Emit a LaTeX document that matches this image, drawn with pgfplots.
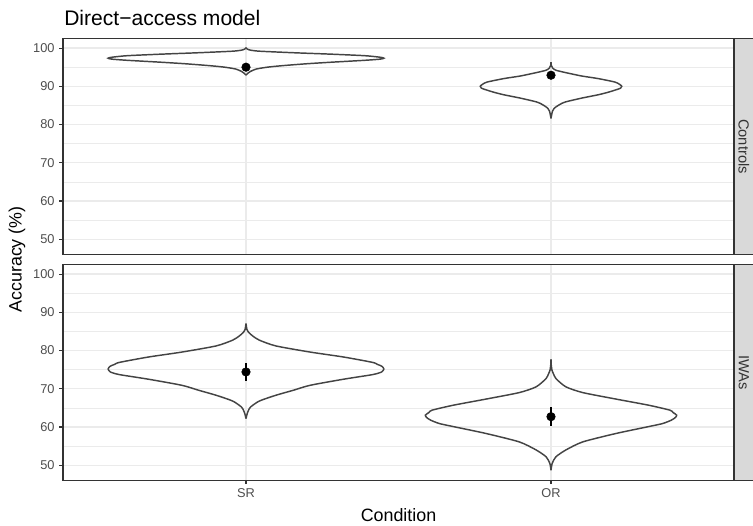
\documentclass[border=0pt]{standalone}
\usepackage{pgfplots}
\usepackage{pgfplotstable}
\pgfplotsset{compat=1.18}
\usepackage{fontspec}
\setmainfont{Liberation Sans}
\definecolor{gridc}{HTML}{EBEBEB}
\definecolor{borderc}{HTML}{333333}
\definecolor{tickc}{HTML}{4D4D4D}
\definecolor{stripc}{HTML}{D9D9D9}
\definecolor{violc}{HTML}{444444}
\definecolor{stript}{HTML}{333333}

% violin half-widths (x units) against accuracy
\pgfplotstableread{
y w
92.9 0
93.4 0.006
93.9 0.015
94.5 0.033
95.0 0.07
95.4 0.12
95.9 0.20
96.3 0.28
96.8 0.39
97.1 0.44
97.35 0.452
97.6 0.44
98.0 0.39
98.4 0.28
98.7 0.18
98.9 0.12
99.2 0.04
99.5 0.012
99.8 0.003
100.1 0
}\ctlSR
\pgfplotstableread{
y w
81.6 0
82.5 0.002
83.5 0.005
84.2 0.010
84.6 0.016
85.3 0.03
85.9 0.047
86.9 0.10
87.8 0.156
88.5 0.19
89.0 0.21
89.5 0.228
90.0 0.232
90.5 0.225
91.1 0.21
92.0 0.156
92.7 0.10
93.6 0.047
94.2 0.016
94.8 0.005
95.5 0.001
96.3 0
}\ctlOR
\pgfplotstableread{
y w
62.2 0
63.5 0.004
64.5 0.009
65.3 0.016
66.8 0.044
68.3 0.098
69.6 0.155
70.9 0.21
72.5 0.32
73.7 0.415
74.4 0.445
75.2 0.452
75.9 0.445
76.4 0.43
76.9 0.415
78.3 0.32
79.6 0.21
81.2 0.098
82.7 0.044
83.8 0.022
84.8 0.008
85.5 0.003
87.05 0
}\iwaSR
\pgfplotstableread{
y w
48.7 0
50.5 0.004
52.2 0.016
54.0 0.049
56.1 0.104
58.3 0.213
60.1 0.32
60.9 0.366
61.8 0.395
62.5 0.408
63.1 0.412
63.8 0.40
64.4 0.39
65.7 0.32
67.3 0.213
69.0 0.104
70.5 0.049
72.7 0.016
74.9 0.003
76.0 0.001
77.7 0
}\iwaOR
\pgfplotstableread{
x y ep em
1 95.0 0.5 0.5
2 92.9 0.5 0.5
}\ctlPts
\pgfplotstableread{
x y ep em
1 74.4 2.4 2.3
2 62.7 2.6 2.5
}\iwaPts

\pgfplotsset{
  panel/.style={
    scale only axis, width=503.25pt, height=162pt,
    anchor=north west,
    xmin=0.4, xmax=2.6, ymin=46, ymax=102.5,
    xtick={1,2}, ytick={50,60,...,100},
    minor ytick={45,55,...,105},
    xmajorgrids=true, ymajorgrids=true, yminorgrids=true,
    major grid style={gridc, line width=1.05pt},
    minor grid style={gridc, line width=0.55pt},
    axis line style={borderc, line width=1pt},
    tick align=outside, major tick length=2.8pt, minor tick length=0pt,
    xtick pos=bottom, ytick pos=left,
    tick style={borderc, line width=0.8pt},
    tick label style={font=\fontsize{9.6}{11}\selectfont, text=tickc},
    /pgf/number format/assume math mode=true,
    clip=false,
  },
  violin/.style={violc, line width=1.1pt, smooth, tension=0.4, no marks},
  pts/.style={only marks, mark=*, mark size=3.2pt, black,
    error bars/.cd, y dir=both, y explicit, error mark=none,
    error bar style={line width=1pt, black}},
}

\begin{document}
\begin{tikzpicture}
\useasboundingbox (0,0) rectangle (564.75pt,-393.75pt);

% top panel: Controls
\begin{axis}[panel, at={(47.25pt,-28.875pt)}, xticklabels={}, xtick style={draw=none}]
\addplot[violin] table[x expr=1+\thisrow{w}, y=y] {\ctlSR};
\addplot[violin] table[x expr=1-\thisrow{w}, y=y] {\ctlSR};
\addplot[violin] table[x expr=2+\thisrow{w}, y=y] {\ctlOR};
\addplot[violin] table[x expr=2-\thisrow{w}, y=y] {\ctlOR};
\addplot[pts] table[x=x, y=y, y error plus=ep, y error minus=em] {\ctlPts};
\end{axis}

% bottom panel: IWAs
\begin{axis}[panel, at={(47.25pt,-198.375pt)}, xticklabels={SR,OR}]
\addplot[violin] table[x expr=1+\thisrow{w}, y=y] {\iwaSR};
\addplot[violin] table[x expr=1-\thisrow{w}, y=y] {\iwaSR};
\addplot[violin] table[x expr=2+\thisrow{w}, y=y] {\iwaOR};
\addplot[violin] table[x expr=2-\thisrow{w}, y=y] {\iwaOR};
\addplot[pts] table[x=x, y=y, y error plus=ep, y error minus=em] {\iwaPts};
\end{axis}

% strips
\draw[fill=stripc, draw=borderc, line width=1pt] (550.5pt,-28.875pt) rectangle (566pt,-190.875pt);
\draw[fill=stripc, draw=borderc, line width=1pt] (550.5pt,-198.375pt) rectangle (566pt,-360.375pt);
\node[rotate=-90, text=stript, font=\fontsize{11}{13}\selectfont] at (557.9pt,-109.875pt) {Controls};
\node[rotate=-90, text=stript, font=\fontsize{11}{13}\selectfont] at (557.9pt,-279.4pt) {IWAs};

% titles
\node[anchor=west, font=\fontsize{15.8}{18}\selectfont, inner sep=0pt] at (48pt,-13.5pt) {Direct−access model};
\node[rotate=90, font=\fontsize{13.4}{16}\selectfont, inner sep=0pt] at (12.75pt,-194.6pt) {Accuracy (\%)};
\node[font=\fontsize{13.4}{16}\selectfont, inner sep=0pt] at (298.9pt,-386.25pt) {Condition};
\end{tikzpicture}
\end{document}
